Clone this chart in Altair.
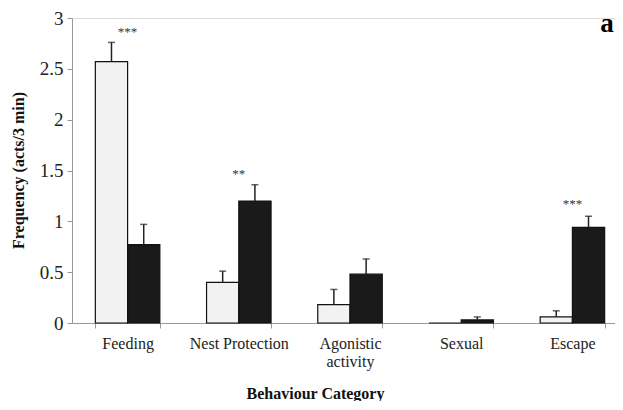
import altair as alt
import pandas as pd

categories = ["Feeding", "Nest Protection", "Agonistic activity", "Sexual", "Escape"]
groups = ["Control", "Treatment"]
white_vals = [2.57, 0.40, 0.18, 0.00, 0.06]
white_err = [2.76, 0.51, 0.33, 0.00, 0.12]
black_vals = [0.77, 1.20, 0.48, 0.03, 0.94]
black_err = [0.97, 1.36, 0.63, 0.06, 1.05]
star_cats = ["Feeding", "Nest Protection", "Escape"]
star_text = ["***", "**", "***"]
star_y = [2.86, 1.47, 1.17]

rows = []
for i, c in enumerate(categories):
    rows.append({"cat": c, "grp": groups[0], "val": white_vals[i], "err": white_err[i]})
    rows.append({"cat": c, "grp": groups[1], "val": black_vals[i], "err": black_err[i]})
df = pd.DataFrame(rows)
df_err = df[df["err"] > 0]
stars = pd.DataFrame({"cat": star_cats, "txt": star_text, "y": star_y})

FONT = "Liberation Serif"

xscale = alt.Scale(domain=categories, paddingInner=0.42, paddingOuter=0.21, range=[0, 556])
xaxis = alt.Axis(
    title="Behaviour Category",
    labelExpr="datum.value == 'Agonistic activity' ? ['Agonistic', 'activity'] : datum.value",
    labelAngle=0,
    labelFont=FONT, labelFontSize=16, labelColor="#222", labelLineHeight=18,
    labelPadding=7, labelBaseline="top",
    tickBand="extent", tickSize=5, tickColor="#999", domainColor="#999",
    titleFont=FONT, titleFontSize=16, titleFontWeight="bold", titleColor="#111",
    titleBaseline="middle", titleX=243, titleY=70,
)
yscale = alt.Scale(domain=[0, 3])
yaxis = alt.Axis(
    title="Frequency (acts/3 min)", values=[0, 0.5, 1, 1.5, 2, 2.5, 3],
    labelExpr="format(datum.value, '')",
    grid=False, tickSize=5, tickColor="#999", domainColor="#999",
    labelFont=FONT, labelFontSize=19, labelColor="#222", labelPadding=4,
    titleFont=FONT, titleFontSize=16, titleFontWeight="bold", titleColor="#111",
    titleAngle=-90, titleX=-54, titleY=152, titleAlign="center", titleBaseline="middle",
)

color = alt.Color("grp:N", scale=alt.Scale(domain=groups, range=["#f2f2f2", "#1a1a1a"]), legend=None)
xo = alt.XOffset("grp:N", scale=alt.Scale(domain=groups, paddingInner=0, paddingOuter=0))

bars = alt.Chart(df).mark_bar(stroke="#111", strokeWidth=1.2).encode(
    x=alt.X("cat:N", scale=xscale, axis=xaxis, sort=categories),
    xOffset=xo,
    y=alt.Y("val:Q", scale=yscale, axis=yaxis),
    color=color,
)
rules = alt.Chart(df_err).mark_rule(color="#222", strokeWidth=1.5).encode(
    x=alt.X("cat:N", scale=xscale, sort=categories),
    xOffset=xo,
    y=alt.Y("val:Q", scale=yscale),
    y2="err:Q",
)
caps = alt.Chart(df_err).mark_tick(color="#222", thickness=1.5, size=7).encode(
    x=alt.X("cat:N", scale=xscale, sort=categories),
    xOffset=xo,
    y=alt.Y("err:Q", scale=yscale),
)
star_marks = alt.Chart(stars).mark_text(font=FONT, fontSize=13, color="#333", baseline="middle").encode(
    x=alt.X("cat:N", scale=xscale, sort=categories),
    y=alt.Y("y:Q", scale=yscale),
    text="txt:N",
)
letter = alt.Chart(pd.DataFrame({"t": ["a"]})).mark_text(
    font=FONT, fontSize=27, fontWeight="bold", color="#000", baseline="alphabetic", align="center"
).encode(x=alt.value(535), y=alt.value(14), text="t:N")

chart = alt.layer(bars, rules, caps, star_marks, letter).properties(
    width=543, height=305,
    autosize=alt.AutoSizeParams(type="none"),
    padding={"left": 64, "top": 10, "right": 0, "bottom": 78},
).configure_view(stroke=None).configure(background="white")

chart.save("out.html", embed_options={"renderer": "svg", "actions": False})
